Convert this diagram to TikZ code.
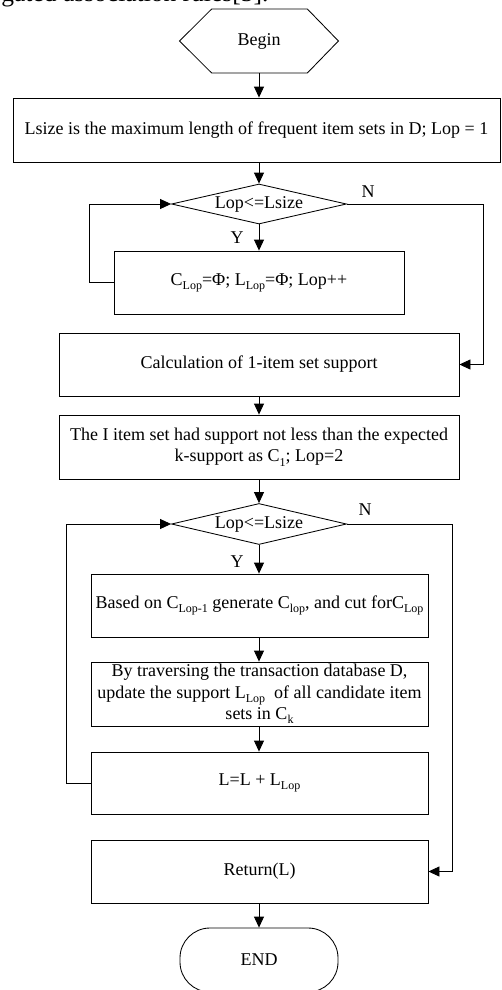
\documentclass[tikz,border=0pt]{standalone}
\usepackage{fontspec}
\setmainfont{Liberation Serif}
\usetikzlibrary{arrows.meta,shapes.geometric,calc}

% lowered small text for index subscripts such as C_Lop
\newcommand\lowidx[1]{\raisebox{-0.5ex}{\fontsize{12}{12}\selectfont #1}}

\begin{document}
\begin{tikzpicture}[x=1pt,y=-1pt,
  line width=0.85pt,
  every node/.style={font=\fontsize{18}{21.5}\selectfont, inner sep=0pt},
  procbox/.style={draw, rectangle, align=center},
  testbox/.style={draw, diamond, aspect=4.375, minimum width=175, minimum height=40},
  flow/.style={-{Triangle[length=11pt,width=10pt]}},
  tag/.style={font=\fontsize{18}{21.5}\selectfont}
]
\useasboundingbox (0,0) rectangle (501,990);
\clip (0,0) rectangle (501,990);

% running text of the page, cut at the top edge
\node[anchor=base west, font=\fontsize{25.5}{25.5}\selectfont] (pagetext) at (1,1.5) {gated association rules[5].};

% start terminal: hexagon drawn round its text node
\node[minimum width=158, minimum height=63] (begin) at (259,41) {Begin};
\draw (begin.west) -- ($(begin.north west)+(32,0)$) -- ($(begin.north east)+(-31,0)$)
  -- (begin.east) -- ($(begin.south east)+(-31,0)$) -- ($(begin.south west)+(32,0)$) -- cycle;

% end terminal
\node[draw, rectangle, rounded corners=30pt, minimum width=158, minimum height=64] (finish) at (259,960) {END};

% first loop
\node[procbox, minimum width=487, minimum height=64] (lsize) at (256.5,130)
  {Lsize is the maximum length of frequent item sets in D; Lop = 1};
\node[testbox] (test1) at (259,204) {Lop<=Lsize};
\node[procbox, minimum width=290, minimum height=63] (init) at (259,282.5)
  {C\lowidx{Lop}=Φ; L\lowidx{Lop}=Φ; Lop++};

% single item sets
\node[procbox, minimum width=400, minimum height=63] (calc) at (259,364.5)
  {Calculation of 1-item set support};
\node[procbox, minimum width=400, minimum height=64] (cone) at (259,447)
  {The I item set had support not less than the expected\\k-support as C\lowidx{1}; Lop=2};

% second loop
\node[testbox, minimum height=41] (test2) at (259,524) {Lop<=Lsize};
\node[procbox, minimum width=337, minimum height=63] (gen) at (259.5,605.5)
  {Based on C\lowidx{Lop-1} generate C\lowidx{lop}, and cut forC\lowidx{Lop}};
\node[procbox, minimum width=337, minimum height=64] (scan) at (259.5,694)
  {By traversing the transaction database D,\\update the support L\lowidx{Lop}\ \ of all candidate item\\sets in C\lowidx{k}};
\node[procbox, minimum width=337, minimum height=62] (acc) at (259.5,783)
  {L=L + L\lowidx{Lop}};
\node[procbox, minimum width=337, minimum height=63] (ret) at (259.5,871.5)
  {Return(L)};

% connectors
\draw[flow] (begin.south) -- (begin.south |- lsize.north);
\draw[flow] (begin.south |- lsize.south) -- (test1.north);
\draw[flow] (test1.south) -- (init.north);
\draw[flow] (init.west) -- ++(-24,0) |- (test1.west);
\draw[flow] (test1.east) -- ++(136,0) |- (calc.east);
\draw[flow] (calc.south) -- (cone.north);
\draw[flow] (cone.south) -- (test2.north);
\draw[flow] (test2.south) -- (test2.south |- gen.north);
\draw[flow] (test2.south |- gen.south) -- (test2.south |- scan.north);
\draw[flow] (test2.south |- scan.south) -- (test2.south |- acc.north);
\draw[flow] (acc.west) -- ++(-24,0) |- (test2.west);
\draw[flow] (test2.east) -- ++(105,0) |- (ret.east);
\draw[flow] (test2.south |- ret.south) -- (finish.north);

% branch labels
\node[tag] (n1) at (368,192) {N};
\node[tag] (y1) at (237,238) {Y};
\node[tag] (n2) at (365,510) {N};
\node[tag] (y2) at (237,562) {Y};
\end{tikzpicture}
\end{document}
